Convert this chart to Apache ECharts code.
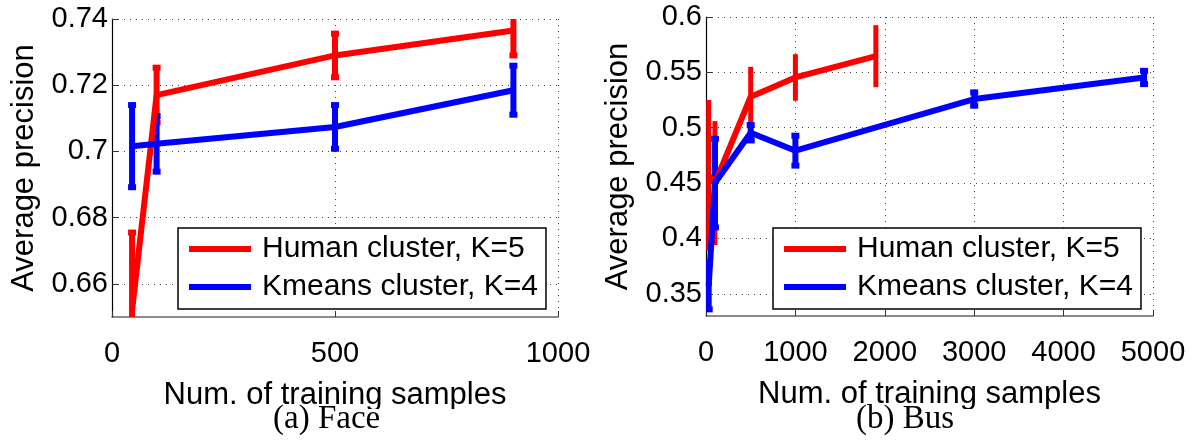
<!DOCTYPE html>
<html>
<head>
<meta charset="utf-8">
<script src="https://cdn.jsdelivr.net/npm/echarts@6/dist/echarts.min.js"></script>
<style>
  html, body { margin: 0; padding: 0; background: #fff; }
  #main { width: 1198px; height: 442px; }
</style>
</head>
<body>
<div id="main"></div>
<script>
// names
var legendNames = ['Human cluster, K=5', 'Kmeans cluster, K=4'];

// (a) Face
var faceX = [45, 100, 500, 900];
var faceHuman = [0.652, 0.717, 0.729, 0.7365];
var faceHumanErr = [0.0235, 0.0083, 0.0066, 0.0075];
var faceKmeans = [0.7016, 0.7023, 0.7074, 0.7185];
var faceKmeansErr = [0.0124, 0.0084, 0.0066, 0.0074];
var faceYTicks = [0.66, 0.68, 0.7, 0.72, 0.74];

// (b) Bus
var busHumanX = [30, 100, 500, 1000, 1900];
var busHuman = [0.457, 0.45, 0.528, 0.5454, 0.5646];
var busHumanErr = [0.068, 0.056, 0.027, 0.021, 0.028];
var busKmeansX = [30, 100, 500, 1000, 3000, 4900];
var busKmeans = [0.357, 0.45, 0.4955, 0.4793, 0.5259, 0.5454];
var busKmeansErr = [0.021, 0.04, 0.007, 0.0135, 0.006, 0.006];
var busYTicks = [0.35, 0.4, 0.45, 0.5, 0.55, 0.6];

var RED = '#ff0000', BLUE = '#0000ff';
var FONT = 'Liberation Sans';

function pairs(xs, ys) {
  return xs.map(function (x, i) { return [x, ys[i]]; });
}
function bars(xs, ys, es) {
  return xs.map(function (x, i) { return [x, ys[i] - es[i], ys[i] + es[i]]; });
}
function errorBar(color, lw, capW) {
  return function (params, api) {
    var x = api.value(0);
    var lo = api.coord([x, api.value(1)]);
    var hi = api.coord([x, api.value(2)]);
    var style = { stroke: color, lineWidth: lw };
    var kids = [{ type: 'line', shape: { x1: hi[0], y1: hi[1], x2: lo[0], y2: lo[1] }, style: style }];
    if (capW) {
      kids.push({ type: 'line', shape: { x1: hi[0] - capW / 2, y1: hi[1], x2: hi[0] + capW / 2, y2: hi[1] }, style: style });
      kids.push({ type: 'line', shape: { x1: lo[0] - capW / 2, y1: lo[1], x2: lo[0] + capW / 2, y2: lo[1] }, style: style });
    }
    return { type: 'group', children: kids };
  };
}

function xAxis(idx, max, interval) {
  return {
    gridIndex: idx, type: 'value', min: 0, max: max, interval: interval,
    name: 'Num. of training samples', nameLocation: 'middle', nameGap: 63,
    nameTextStyle: { fontFamily: FONT, fontSize: 31, color: '#000' },
    axisLine: { lineStyle: { color: '#666', width: 1.5 } },
    axisTick: { inside: true, length: 6, lineStyle: { color: '#333' } },
    axisLabel: { fontFamily: FONT, fontSize: 29, color: '#000', margin: 22,
      formatter: function (v) { return String(v); } },
    splitLine: { show: true, lineStyle: { color: '#444', type: [1, 5], width: 1 } }
  };
}
function yAxis(idx, min, max, ticks) {
  return {
    gridIndex: idx, type: 'value', min: min, max: max,
    name: 'Average precision', nameLocation: 'middle', nameGap: 72,
    nameTextStyle: { fontFamily: FONT, fontSize: 31, color: '#000' },
    axisLine: { show: true, lineStyle: { color: '#000', width: 1.2 } },
    axisTick: { inside: true, length: 6, customValues: ticks, lineStyle: { color: '#333' } },
    axisLabel: { fontFamily: FONT, fontSize: 29, color: '#000', margin: 4, customValues: ticks },
    splitLine: { show: true, lineStyle: { color: '#444', type: [1, 5], width: 1 } }
  };
}
function legend(left) {
  return {
    data: legendNames, orient: 'vertical', left: left, top: 228,
    selectedMode: false, icon: 'rect',
    itemWidth: 62, itemHeight: 6, itemGap: 8,
    padding: [6, 8, 7, 11],
    backgroundColor: '#fff', borderColor: '#000', borderWidth: 1.5,
    textStyle: { fontFamily: FONT, fontSize: 30, color: '#000', padding: [0, 0, 0, 6] }
  };
}
function meanLine(name, idx, data, color) {
  return {
    name: name, type: 'line', xAxisIndex: idx, yAxisIndex: idx, data: data,
    symbol: 'none', lineStyle: { color: color, width: 6 }, itemStyle: { color: color },
    animation: false
  };
}
function errSeries(idx, data, color, lw, capW) {
  return {
    type: 'custom', xAxisIndex: idx, yAxisIndex: idx, data: data, clip: true,
    renderItem: errorBar(color, lw, capW), animation: false
  };
}

var chart = echarts.init(document.getElementById('main'), null, { renderer: 'canvas' });
chart.setOption({
  backgroundColor: '#fff',
  animation: false,
  grid: [
    { left: 112, top: 19, width: 446, height: 298 },
    { left: 706, top: 17, width: 447, height: 299 }
  ],
  xAxis: [xAxis(0, 1000, 500), xAxis(1, 5000, 1000)],
  yAxis: [yAxis(0, 0.65, 0.74, faceYTicks), yAxis(1, 0.33, 0.6, busYTicks)],
  legend: [legend(178), legend(773)],
  series: [
    meanLine(legendNames[0], 0, pairs(faceX, faceHuman), RED),
    errSeries(0, bars(faceX, faceHuman, faceHumanErr), RED, 6, 8),
    meanLine(legendNames[1], 0, pairs(faceX, faceKmeans), BLUE),
    errSeries(0, bars(faceX, faceKmeans, faceKmeansErr), BLUE, 6, 8),
    meanLine(legendNames[0], 1, pairs(busHumanX, busHuman), RED),
    errSeries(1, bars(busHumanX, busHuman, busHumanErr), RED, 5, 0),
    meanLine(legendNames[1], 1, pairs(busKmeansX, busKmeans), BLUE),
    errSeries(1, bars(busKmeansX, busKmeans, busKmeansErr), BLUE, 6, 8)
  ],
  graphic: [
    // caption band, cuts the axis-title descenders like the source figure
    { type: 'rect', left: 0, top: 409, z: 100, shape: { width: 1198, height: 33 }, style: { fill: '#fff' } },
    { type: 'text', left: 273, top: 403, z: 101, style: { text: '(a) Face', font: '33px "Liberation Serif"', fill: '#000' } },
    { type: 'text', left: 856, top: 403, z: 101, style: { text: '(b) Bus', font: '33px "Liberation Serif"', fill: '#000' } }
  ]
});
</script>
</body>
</html>
